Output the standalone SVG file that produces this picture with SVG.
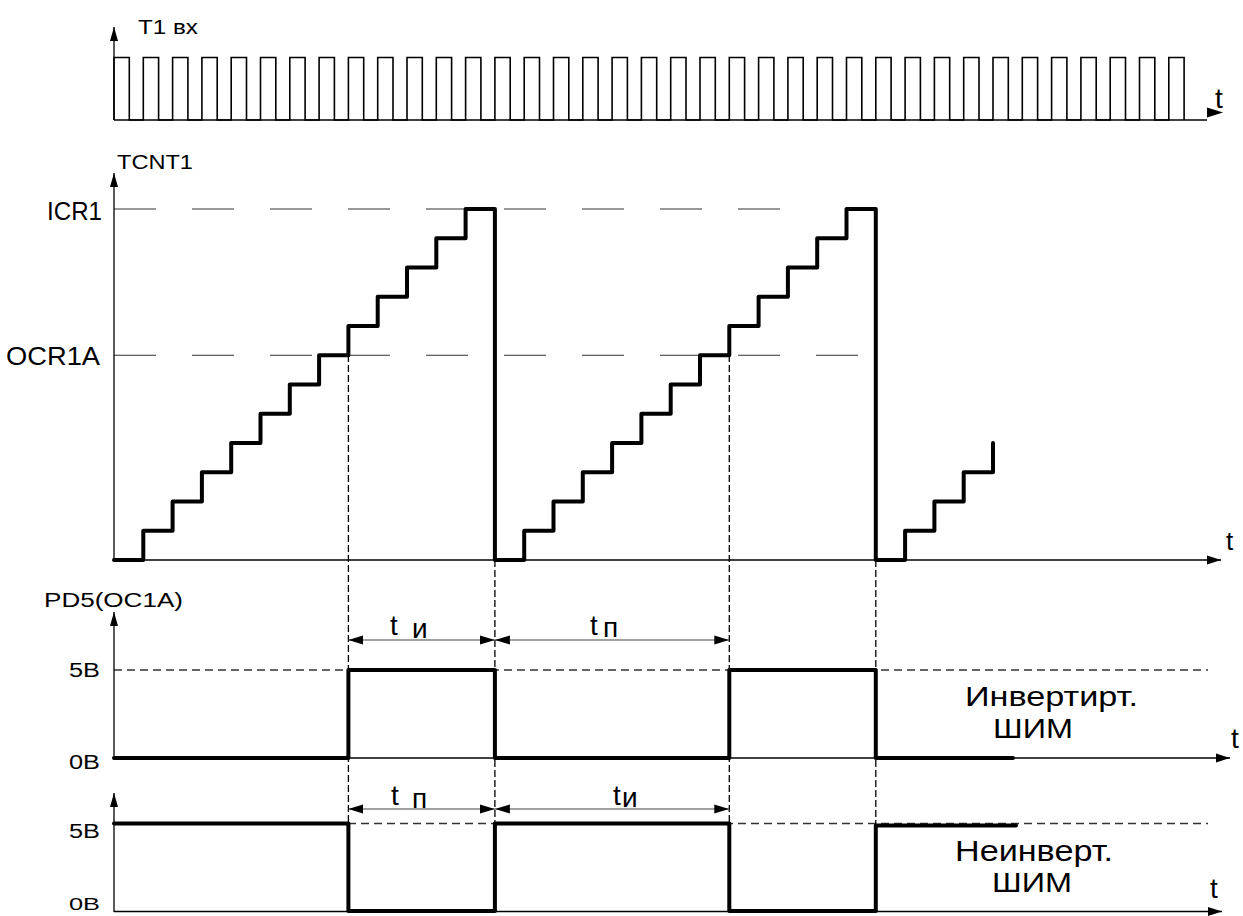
<svg xmlns="http://www.w3.org/2000/svg" width="1243" height="916" viewBox="0 0 1243 916">
<style>
text{font-family:"Liberation Sans",Arial,sans-serif;fill:#000}
.ax{stroke:#000;stroke-width:1.3;fill:none}
.sig{stroke:#000;stroke-width:4;fill:none;stroke-linejoin:round;stroke-linecap:round}
.pulse{stroke:#000;stroke-width:1.6;fill:none}
.lvl{stroke:#333;stroke-width:1.2;fill:none;stroke-dasharray:42 36}
.lvl2{stroke:#333;stroke-width:1.3;fill:none;stroke-dasharray:8 5}
.vd{stroke:#000;stroke-width:1.3;fill:none;stroke-dasharray:7 3}
.dim{stroke:#444;stroke-width:1.2;fill:none;marker-start:url(#da);marker-end:url(#da)}
</style>
<defs>
<marker id="aa" viewBox="0 0 14 10" refX="14" refY="5" markerWidth="14" markerHeight="10" markerUnits="userSpaceOnUse" orient="auto"><path d="M0,0.5L14,5L0,9.5z" fill="#000"/></marker>
<marker id="av" viewBox="0 0 14 8" refX="14" refY="4" markerWidth="14" markerHeight="8" markerUnits="userSpaceOnUse" orient="auto"><path d="M0,0L14,4L0,8z" fill="#000"/></marker>
<marker id="da" viewBox="0 0 15 10" refX="15" refY="5" markerWidth="15" markerHeight="10" markerUnits="userSpaceOnUse" orient="auto-start-reverse"><path d="M0,0.5L15,5L0,9.5z" fill="#000"/></marker>
</defs>

<g id="grid">
<line class="lvl" x1="114" y1="209" x2="812" y2="209"/>
<line class="lvl" x1="114" y1="355.25" x2="864" y2="355.25"/>
<line class="lvl2" x1="114" y1="670" x2="1208" y2="670"/>
<line class="lvl2" x1="114" y1="823.5" x2="1208" y2="823.5"/>
<line class="vd" x1="348.4" y1="355" x2="348.4" y2="912"/>
<line class="vd" x1="494.9" y1="560" x2="494.9" y2="912"/>
<line class="vd" x1="729.3" y1="355" x2="729.3" y2="912"/>
<line class="vd" x1="875.8" y1="560" x2="875.8" y2="912"/>
</g>

<g id="axes">
<line class="ax" x1="114" y1="120" x2="114" y2="27" marker-end="url(#av)"/>
<line class="ax" x1="114" y1="120" x2="1207" y2="120"/>
<path d="M1207,107.5L1223,112.5L1207,117.5z" fill="#000"/>
<line class="ax" x1="114" y1="560" x2="114" y2="173" marker-end="url(#av)"/>
<line class="ax" x1="114" y1="560" x2="1221" y2="560" marker-end="url(#aa)"/>
<line class="ax" x1="114" y1="758" x2="114" y2="612" marker-end="url(#av)"/>
<line class="ax" x1="114" y1="758" x2="1230" y2="758" marker-end="url(#aa)"/>
<line class="ax" x1="114" y1="912" x2="114" y2="793" marker-end="url(#av)"/>
<line class="ax" x1="114" y1="911.5" x2="1222" y2="911.5" marker-end="url(#aa)"/>
</g>

<g id="clock">
<path class="pulse" d="M114,120
v-62.5h15.3v62.5h14 v-62.5h15.3v62.5h14 v-62.5h15.3v62.5h14 v-62.5h15.3v62.5h14 v-62.5h15.3v62.5h14
v-62.5h15.3v62.5h14 v-62.5h15.3v62.5h14 v-62.5h15.3v62.5h14 v-62.5h15.3v62.5h14 v-62.5h15.3v62.5h14
v-62.5h15.3v62.5h14 v-62.5h15.3v62.5h14 v-62.5h15.3v62.5h14 v-62.5h15.3v62.5h14 v-62.5h15.3v62.5h14
v-62.5h15.3v62.5h14 v-62.5h15.3v62.5h14 v-62.5h15.3v62.5h14 v-62.5h15.3v62.5h14 v-62.5h15.3v62.5h14
v-62.5h15.3v62.5h14 v-62.5h15.3v62.5h14 v-62.5h15.3v62.5h14 v-62.5h15.3v62.5h14 v-62.5h15.3v62.5h14
v-62.5h15.3v62.5h14 v-62.5h15.3v62.5h14 v-62.5h15.3v62.5h14 v-62.5h15.3v62.5h14 v-62.5h15.3v62.5h14
v-62.5h15.3v62.5h14 v-62.5h15.3v62.5h14 v-62.5h15.3v62.5h14 v-62.5h15.3v62.5h14 v-62.5h15.3v62.5h14
v-62.5h15.3v62.5h14
v-62.5h15.3v62.5"/>
</g>

<g id="counter">
<path class="sig" d="M114,560H143.3V530.75H172.6V501.5H201.9V472.25H231.2V443H260.5V413.75H289.8V384.5H319.1V355.25H348.4V326H377.7V296.75H407V267.5H436.3V238.25H465.6V209H494.9V560H524.2V530.75H553.5V501.5H582.8V472.25H612.1V443H641.4V413.75H670.7V384.5H700V355.25H729.3V326H758.6V296.75H787.9V267.5H817.2V238.25H846.5V209H875.8V560H905.1V530.75H934.4V501.5H963.7V472.25H993V443"/>
</g>

<g id="pwm-inverted">
<path class="sig" d="M114,758H348.4V670H494.9V758H729.3V670H875.8V758H1013"/>
</g>

<g id="pwm-noninverted">
<path class="sig" d="M114,823.5H348.4V911H494.9V823.5H729.3V911H875.8V825.5H1016"/>
</g>

<g id="dimensions">
<line class="dim" x1="348.4" y1="640" x2="494.9" y2="640"/>
<line class="dim" x1="494.9" y1="640" x2="729.3" y2="640"/>
<line class="dim" x1="348.4" y1="809" x2="494.9" y2="809"/>
<line class="dim" x1="494.9" y1="809" x2="729.3" y2="809"/>
</g>

<g id="labels">
<text x="138" y="34" font-size="20" textLength="60" lengthAdjust="spacingAndGlyphs">T1 вх</text>
<text x="117" y="169" font-size="20" textLength="76" lengthAdjust="spacingAndGlyphs">TCNT1</text>
<text x="47" y="220" font-size="26" textLength="55" lengthAdjust="spacingAndGlyphs">ICR1</text>
<text x="6" y="365" font-size="26" textLength="94" lengthAdjust="spacingAndGlyphs">OCR1A</text>
<text x="44" y="607" font-size="20" textLength="139" lengthAdjust="spacingAndGlyphs">PD5(OC1A)</text>
<text x="69" y="677" font-size="20" textLength="31" lengthAdjust="spacingAndGlyphs">5B</text>
<text x="69" y="769" font-size="20" textLength="31" lengthAdjust="spacingAndGlyphs">0B</text>
<text x="69" y="838" font-size="20" textLength="31" lengthAdjust="spacingAndGlyphs">5B</text>
<text x="69" y="910" font-size="17" textLength="31" lengthAdjust="spacingAndGlyphs">0B</text>
<text x="1215" y="108" font-size="28">t</text>
<text x="1226" y="550" font-size="26">t</text>
<text x="1231" y="748" font-size="28">t</text>
<text x="1210" y="898" font-size="28">t</text>
<text font-size="28"><tspan x="390" y="635">t</tspan><tspan x="412" y="638">и</tspan></text>
<text font-size="28"><tspan x="590" y="635">t</tspan><tspan x="603" y="637">п</tspan></text>
<text font-size="28"><tspan x="391" y="805">t</tspan><tspan x="412" y="808">п</tspan></text>
<text font-size="28"><tspan x="613" y="805">t</tspan><tspan x="622" y="807">и</tspan></text>
<text x="965" y="706" font-size="28" textLength="173" lengthAdjust="spacingAndGlyphs">Инвертирт.</text>
<text x="993" y="738" font-size="28" textLength="80" lengthAdjust="spacingAndGlyphs">ШИМ</text>
<text x="955" y="861" font-size="29" textLength="158" lengthAdjust="spacingAndGlyphs">Неинверт.</text>
<text x="992" y="892" font-size="28" textLength="80" lengthAdjust="spacingAndGlyphs">ШИМ</text>
</g>
</svg>
